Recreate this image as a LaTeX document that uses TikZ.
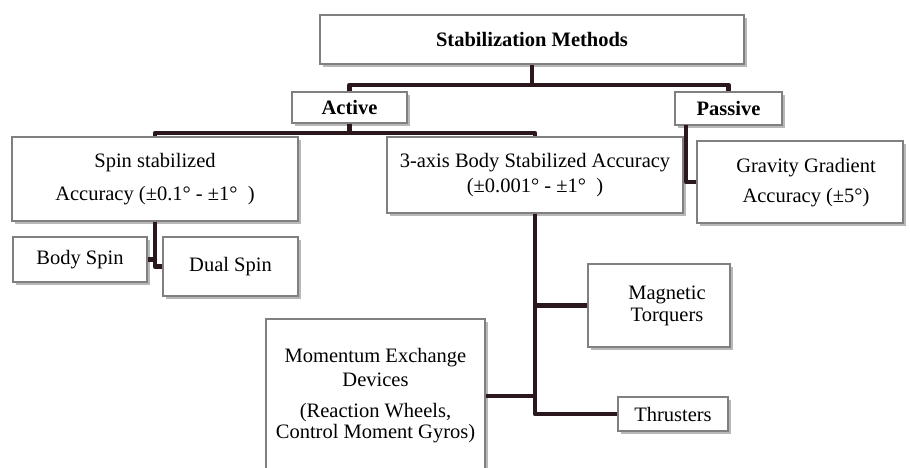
\documentclass[tikz,border=0pt]{standalone}
\usepackage{fontspec}
\setmainfont{Liberation Serif}
\usetikzlibrary{shadows}
\definecolor{boxgray}{RGB}{128,128,128}
\definecolor{conncol}{RGB}{42,24,28}
\begin{document}
\begin{tikzpicture}[x=1pt,y=-1pt,
  every node/.style={font=\fontsize{20.5}{25}\selectfont},
  box/.style={draw=boxgray, line width=1.1pt, fill=white, inner sep=0pt, align=center,
    drop shadow={shadow xshift=2.5pt, shadow yshift=-3pt, opacity=0.28, fill=black}},
  conn/.style={draw=conncol, line width=4.5pt, line join=round},
  lbl/.style={align=center, inner sep=0pt}]
\fill[white] (0,0) rectangle (910,468);
\clip (0,0) rectangle (910,468);
% boxes
\node[box, minimum width=424pt, minimum height=49pt] (sm) at (532,39.5) {\textbf{Stabilization Methods}};
\node[box, minimum width=115pt, minimum height=31pt] (active) at (349.5,107.5) {\textbf{Active}};
\node[box, minimum width=107pt, minimum height=33pt] (passive) at (728.5,108.5) {\textbf{Passive}};
\node[box, minimum width=286pt, minimum height=84pt] (spin) at (155,179) {Spin stabilized\\[8pt] Accuracy (±0.1° - ±1°\ \ )};
\node[box, minimum width=296pt, minimum height=76pt] (ax) at (535,175) {3-axis Body Stabilized Accuracy\\(±0.001° - ±1°\ \ )};
\node[box, minimum width=206pt, minimum height=82pt] (grav) at (800,182) {};
\node[lbl] (gravtext) at (806,183) {Gravity Gradient\\[5pt] Accuracy (±5°)};
\node[box, minimum width=134pt, minimum height=45pt] (body) at (80,259.5) {Body Spin};
\node[box, minimum width=135pt, minimum height=59pt] (dual) at (230.5,266.5) {Dual Spin};
\node[box, minimum width=142pt, minimum height=83pt] (mag) at (659,305.5) {};
\node[lbl] (magtext) at (667,306) {Magnetic\\[-3pt] Torquers};
\node[box, minimum width=110pt, minimum height=34pt] (thr) at (673,414) {Thrusters};
\node[box, minimum width=219pt, minimum height=154pt] (mom) at (375.5,396) {Momentum Exchange\\[-1pt] Devices\\[6pt] (Reaction Wheels,\\[-4pt] Control Moment Gyros)};
% junction coordinates
\coordinate (top) at (532,85);
\coordinate (act) at (349.5,133);
\coordinate (pv) at (686,125);
% connectors
\draw[conn] (sm.south) -- (top);
\draw[conn] (active.north) |- (top) -| (passive.north);
\draw[conn] (active.south) -- (act);
\draw[conn] (spin.north) |- (act) -| (ax.north);
\draw[conn] (pv) |- (grav.west);
\draw[conn] (spin.south) -- (spin.south |- dual.west) -- (dual.west);
\draw[conn] (body.east) -- (body.east -| spin.south);
\draw[conn] (ax.south) -- (ax.south |- thr.west) -- (thr.west);
\draw[conn] (mag.west) -- (mag.west -| ax.south);
\draw[conn] (mom.east) -- (mom.east -| ax.south);
\end{tikzpicture}
\end{document}
